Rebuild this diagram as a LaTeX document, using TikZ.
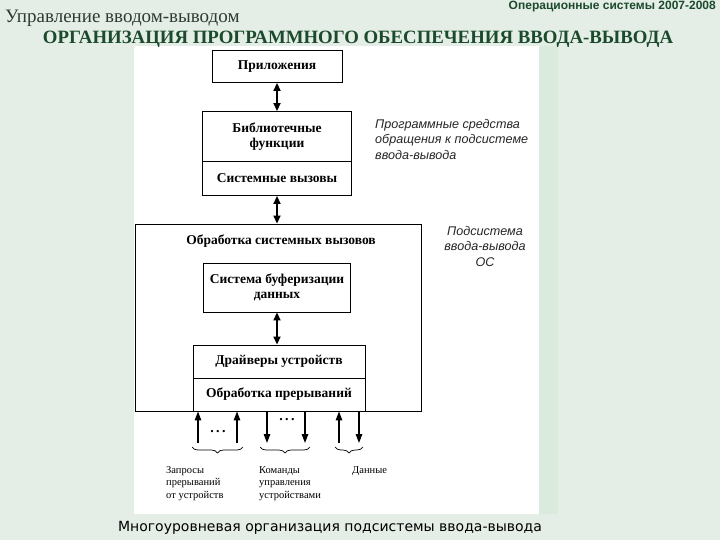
\documentclass[tikz,border=0pt]{standalone}
\usepackage{fontspec}
\setmainfont{Liberation Serif}
\newfontfamily\lsans{Liberation Sans}
\newfontfamily\dvsans{DejaVu Sans}
\usetikzlibrary{arrows.meta,decorations.pathreplacing}
\definecolor{bgc}{HTML}{E4EEE6}
\definecolor{bandc}{HTML}{DAEADD}
\definecolor{ttlc}{HTML}{1B4A2C}
\definecolor{subc}{HTML}{2E3B34}
\begin{document}
\begin{tikzpicture}[x=1pt,y=-1pt,
  box/.style={draw=black, line width=0.9pt, fill=white, inner sep=0pt, align=center,
    font=\bfseries\fontsize{13.5}{15}\selectfont},
  lbl/.style={inner sep=0pt, font=\bfseries\fontsize{13.5}{15}\selectfont},
  dbl/.style={line width=1.8pt, {Triangle[length=8pt,width=7pt]}-{Triangle[length=8pt,width=7pt]}},
  sgl/.style={line width=1.3pt, -{Triangle[length=9pt,width=6.5pt]}},
  brc/.style={line width=0.7pt, decorate, decoration={brace, mirror, amplitude=6pt}},
  small/.style={inner sep=0pt, align=left, font=\fontsize{10.5}{12.5}\selectfont},
  note/.style={inner sep=0pt, font=\lsans\itshape\fontsize{12.6}{15.5}\selectfont, text=black!85}
]
% background
\fill[bgc] (0,0) rectangle (720,540);
\fill[bandc] (539,46) rectangle (558,514);
\fill[white] (134,46) rectangle (539,514);
\useasboundingbox (0,0) rectangle (720,540);

% headers
\node[anchor=north east, inner sep=0pt, font=\lsans\bfseries\fontsize{12}{13}\selectfont, text=ttlc] (hdr) at (716,1) {Операционные системы 2007-2008};
\node[anchor=west, inner sep=0pt, font=\fontsize{19}{21}\selectfont, text=subc] (sub) at (5,18) {Управление вводом-выводом};
\node[inner sep=0pt, font=\bfseries\fontsize{18.8}{20}\selectfont, text=ttlc] (ttl) at (358,39) {ОРГАНИЗАЦИЯ ПРОГРАММНОГО ОБЕСПЕЧЕНИЯ ВВОДА-ВЫВОДА};

% boxes
\node[box, minimum width=130, minimum height=32] (app) at (277,66.5) {Приложения};
\node[box, minimum width=149, minimum height=50] (lib) at (277,136.5) {Библиотечные\\функции};
\node[box, minimum width=149, minimum height=34] (sys) at (277,178.5) {Системные вызовы};
\node[box, minimum width=286, minimum height=187] (os) at (278,317.5) {};
\node[lbl] (osl) at (281,241) {Обработка системных вызовов};
\node[box, minimum width=147, minimum height=49] (buf) at (277,287.5) {Система буферизации\\данных};
\node[box, minimum width=172, minimum height=33] (drv) at (279,361.5) {Драйверы устройств};
\node[box, minimum width=172, minimum height=33] (intr) at (279,394.5) {Обработка прерываний};

% vertical double arrows
\draw[dbl] (app.south) -- (lib.north);
\draw[dbl] (sys.south) -- (sys.south |- os.north);
\draw[dbl] (buf.south) -- (buf.south |- drv.north);

% bottom arrows
\coordinate (b1) at (198,443);
\coordinate (b2) at (237,443);
\coordinate (b3) at (267,443);
\coordinate (b4) at (305,443);
\coordinate (b5) at (339,443);
\coordinate (b6) at (359,443);
\draw[sgl] (b1) -- (b1 |- intr.south);
\draw[sgl] (b2) -- (b2 |- intr.south);
\draw[sgl] (b3 |- intr.south) -- (b3);
\draw[sgl] (b4 |- intr.south) -- (b4);
\draw[sgl] (b5) -- (b5 |- intr.south);
\draw[sgl] (b6 |- intr.south) -- (b6);
\node[inner sep=0pt, font=\bfseries\fontsize{14}{15}\selectfont] (d1) at (218,432) {.\,.\,.};
\node[inner sep=0pt, font=\bfseries\fontsize{14}{15}\selectfont] (d2) at (287,420) {.\,.\,.};

% braces
\coordinate (c1a) at (192,447); \coordinate (c1b) at (243,447);
\coordinate (c2a) at (260,447); \coordinate (c2b) at (310,447);
\coordinate (c3a) at (335,447); \coordinate (c3b) at (363,447);
\draw[brc] (c1a) -- (c1b);
\draw[brc] (c2a) -- (c2b);
\draw[brc] (c3a) -- (c3b);

% bottom labels
\node[small, anchor=north west] (l1) at (166,466) {Запросы\\прерываний\\от устройств};
\node[small, anchor=north west] (l2) at (259,466) {Команды\\управления\\устройствами};
\node[small, anchor=north west] (l3) at (352,466) {Данные};

% side notes
\node[note, anchor=north west, align=left] (n1) at (375,119) {Программные средства\\обращения к подсистеме\\ввода-вывода};
\node[note, align=center] (n2) at (485,246) {Подсистема\\ввода-вывода\\ОС};

% caption
\node[inner sep=0pt, font=\dvsans\fontsize{14}{16}\selectfont] (cap) at (330,528) {Многоуровневая организация подсистемы ввода-вывода};
\end{tikzpicture}
\end{document}
